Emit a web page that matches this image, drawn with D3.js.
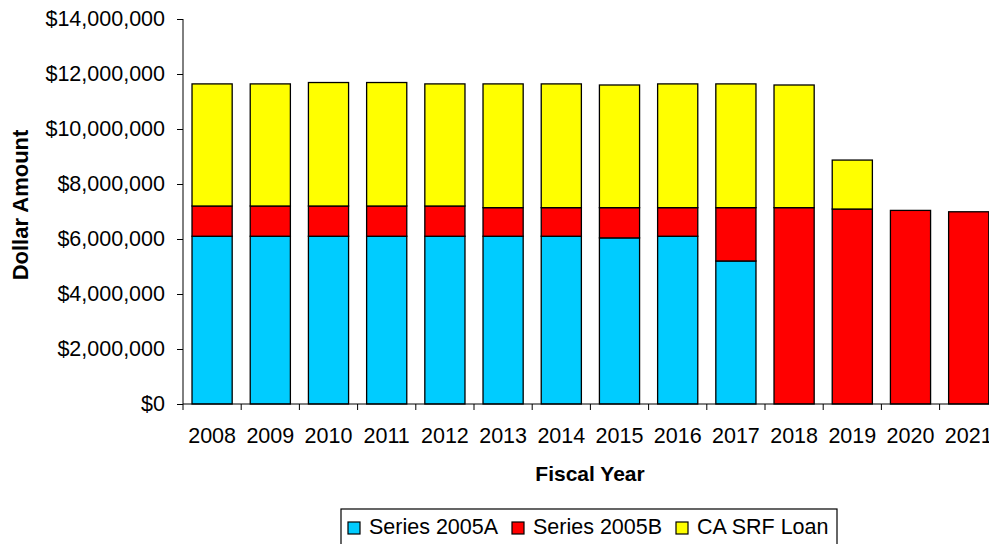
<!DOCTYPE html>
<html>
<head>
<meta charset="utf-8">
<script src="https://cdn.jsdelivr.net/npm/d3@7"></script>
<style>
  body { margin: 0; background: #fff; }
  svg { display: block; font-family: Arial, "Liberation Sans", sans-serif; }
</style>
</head>
<body>
<svg width="989" height="544"></svg>
<script>
// fiscal years and the three funding series
var years = ["2008", "2009", "2010", "2011", "2012", "2013", "2014", "2015", "2016", "2017", "2018", "2019", "2020", "2021"];
var series2005A = [6100000, 6100000, 6100000, 6100000, 6100000, 6100000, 6100000, 6040000, 6100000, 5200000, 0, 0, 0, 0];
var series2005B = [1100000, 1100000, 1100000, 1100000, 1100000, 1040000, 1040000, 1100000, 1040000, 1940000, 7140000, 7090000, 7040000, 6990000];
var caSrfLoan = [4440000, 4440000, 4490000, 4490000, 4440000, 4500000, 4500000, 4460000, 4500000, 4500000, 4460000, 1780000, 0, 0];
var seriesNames = ["Series 2005A", "Series 2005B", "CA SRF Loan"];
var seriesColors = ["#00CCFF", "#FF0000", "#FFFF00"];
var yTicks = [0, 2000000, 4000000, 6000000, 8000000, 10000000, 12000000, 14000000];

var svg = d3.select("svg");

var rows = years.map(function(yr, i) {
  return { year: yr, "Series 2005A": series2005A[i], "Series 2005B": series2005B[i], "CA SRF Loan": caSrfLoan[i] };
});
var stacked = d3.stack().keys(seriesNames)(rows);

var plotLeft = 183, plotBottom = 404, plotTop = 19;
var x = d3.scaleBand()
  .domain(years)
  .range([plotLeft, plotLeft + 14 * 58.2])
  .paddingInner(0.31)
  .paddingOuter(0.155);
var y = d3.scaleLinear().domain([0, 14000000]).range([plotBottom, plotTop]);

// bars
svg.append("g").selectAll("g")
  .data(stacked)
  .enter().append("g")
  .style("fill", function(d, i) { return seriesColors[i]; })
  .selectAll("rect")
  .data(function(d) { return d.filter(function(s) { return s[1] - s[0] > 0; }); })
  .enter().append("rect")
  .attr("x", function(d) { return x(d.data.year); })
  .attr("y", function(d) { return y(d[1]); })
  .attr("width", x.bandwidth())
  .attr("height", function(d) { return y(d[0]) - y(d[1]); })
  .style("stroke", "#000")
  .style("stroke-width", 1.3);

// y axis
var yAxis = svg.append("g")
  .attr("transform", "translate(" + plotLeft + ",0)")
  .call(d3.axisLeft(y).tickValues(yTicks).tickSize(6).tickPadding(12)
    .tickFormat(function(d) { return "$" + d3.format(",")(d); }));
yAxis.select(".domain").attr("d", "M0," + plotTop + "V" + plotBottom).style("stroke", "#000");
yAxis.selectAll(".tick line").style("stroke", "#000");
yAxis.selectAll("text").style("font-size", "21.5px").style("fill", "#000").attr("font-family", null);

// x axis: labels centred, tick marks on band boundaries
var xAxis = svg.append("g")
  .attr("transform", "translate(0," + plotBottom + ")")
  .call(d3.axisBottom(x).tickSize(0).tickPadding(24));
xAxis.select(".domain").attr("d", "M" + plotLeft + ",0H989").style("stroke", "#000");
xAxis.selectAll("text").style("font-size", "21.5px").style("fill", "#000").attr("font-family", null);

var bounds = years.map(function(d) { return x(d) - x.step() * x.paddingInner() / 2; });
bounds.push(bounds[bounds.length - 1] + x.step());
svg.append("g").selectAll("line")
  .data(bounds)
  .enter().append("line")
  .attr("x1", function(d) { return d; })
  .attr("x2", function(d) { return d; })
  .attr("y1", plotBottom)
  .attr("y2", plotBottom + 6)
  .style("stroke", "#000");

// axis titles
svg.append("text")
  .attr("x", 590)
  .attr("y", 481)
  .attr("text-anchor", "middle")
  .style("font-weight", "bold")
  .style("font-size", "21px")
  .text("Fiscal Year");

svg.append("text")
  .attr("transform", "translate(28,205) rotate(-90)")
  .attr("text-anchor", "middle")
  .style("font-weight", "bold")
  .style("font-size", "22px")
  .text("Dollar Amount");

// legend
var legend = svg.append("g");
legend.append("rect")
  .attr("x", 341)
  .attr("y", 509)
  .attr("width", 496)
  .attr("height", 50)
  .style("fill", "#fff")
  .style("stroke", "#000")
  .style("stroke-width", 1.2);

var legendX = [348, 512, 676];
var items = legend.selectAll("g.item")
  .data(seriesNames)
  .enter().append("g")
  .attr("class", "item")
  .attr("transform", function(d, i) { return "translate(" + legendX[i] + ",0)"; });
items.append("rect")
  .attr("x", 0)
  .attr("y", 522)
  .attr("width", 12)
  .attr("height", 12)
  .style("fill", function(d, i) { return seriesColors[i]; })
  .style("stroke", "#000")
  .style("stroke-width", 1.2);
items.append("text")
  .attr("x", 21)
  .attr("y", 534)
  .style("font-size", "21.5px")
  .text(function(d) { return d; });
</script>
</body>
</html>
